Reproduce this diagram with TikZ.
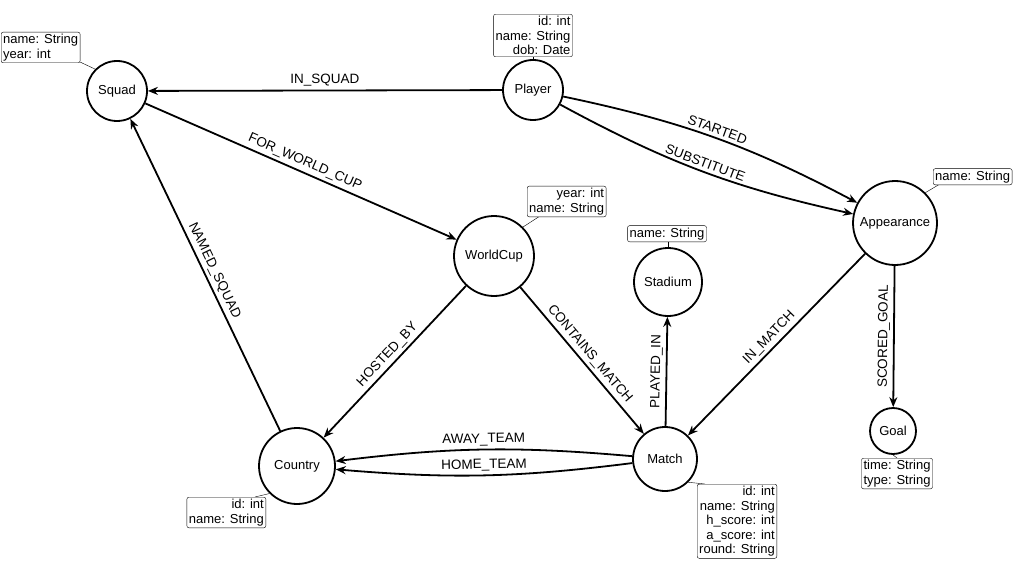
\documentclass[tikz,border=0pt]{standalone}
\usepackage{fontspec}
\setmainfont{Liberation Sans}
\usetikzlibrary{arrows.meta}
\begin{document}
\begin{tikzpicture}[x=1pt,y=-1pt,
  ent/.style={circle,draw,line width=1.8pt,inner sep=0pt,font=\fontsize{13}{15}\selectfont,fill=white},
  prop/.style={draw,rounded corners=2pt,fill=white,font=\fontsize{13}{14.5}\selectfont,inner sep=2pt,align=right},
  rel/.style={-{Stealth[length=10pt,width=8pt]},line width=1.8pt},
  lab/.style={font=\fontsize{13.5}{15}\selectfont,sloped,above,inner sep=3pt}]
\useasboundingbox (0,0) rectangle (1024,572);
\node[ent,minimum size=60pt] (squad) at (117,91) {Squad};
\node[ent,minimum size=60pt] (player) at (533,90) {Player};
\node[ent,minimum size=84pt] (app) at (895,223) {Appearance};
\node[ent,minimum size=80pt] (wc) at (494,256) {WorldCup};
\node[ent,minimum size=68pt] (stad) at (668,282) {Stadium};
\node[ent,minimum size=76pt] (country) at (297,466) {Country};
\node[ent,minimum size=64pt] (match) at (665,459) {Match};
\node[ent,minimum size=46pt] (goal) at (893,431) {Goal};

\draw (squad.north west) -- (80,62);
\node[prop,anchor=south west,align=left] (psquad) at (1,63) {name: String\\year: int};
\draw (player.north) -- (533,56);
\node[prop,anchor=south] (pplayer) at (533,57) {id: int\\name: String\\dob: Date};
\draw (wc.north east) -- (540,216);
\node[prop,anchor=south west] (pwc) at (527,217) {year: int\\name: String};
\draw (stad.north) -- (668,242);
\node[prop,anchor=south] (pstad) at (667,242) {name: String};
\draw (app.north east) -- (940,184);
\node[prop,anchor=south west] (papp) at (933,185) {name: String};
\draw (goal.south) -- (897,458);
\node[prop,anchor=north] (pgoal) at (897,458) {time: String\\type: String};
\draw (country.south west) -- (255,497);
\node[prop,anchor=north east] (pcountry) at (266,497) {id: int\\name: String};
\draw (match.south east) -- (705,484);
\node[prop,anchor=north west] (pmatch) at (697,484) {id: int\\name: String\\h\_score: int\\a\_score: int\\round: String};

\draw[rel] (player) -- node[lab]{IN\_SQUAD} (squad);
\draw[rel] (squad) -- node[lab]{FOR\_WORLD\_CUP} (wc);
\draw[rel] (country) -- node[lab]{NAMED\_SQUAD} (squad);
\draw[rel] (wc) -- node[lab]{HOSTED\_BY} (country);
\draw[rel] (wc) -- node[lab]{CONTAINS\_MATCH} (match);
\draw[rel] (match) -- node[lab]{PLAYED\_IN} (stad);
\draw[rel] (app) -- node[lab]{IN\_MATCH} (match);
\draw[rel] (app) -- node[lab]{SCORED\_GOAL} (goal);
\draw[rel] (player) to[bend left=8] node[lab]{STARTED} (app);
\draw[rel] (player) to[bend right=8] node[lab]{SUBSTITUTE} (app);
\draw[rel] (match) to[bend right=6] node[lab]{AWAY\_TEAM} (country);
\draw[rel] (match) to[bend left=6] node[lab]{HOME\_TEAM} (country);
\end{tikzpicture}
\end{document}
